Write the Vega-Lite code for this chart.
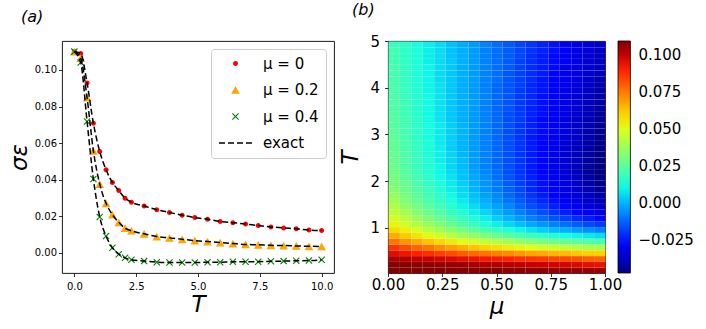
{
"$schema": "https://vega.github.io/schema/vega-lite/v6.json",
"padding": {"left": 7, "top": 1, "right": 4, "bottom": 4},
"bounds": "flush",
"spacing": 54,
"config": {
  "font": "DejaVu Sans",
  "view": {"stroke": "#000000", "strokeWidth": 0.9},
  "axis": {"domain": false, "grid": false, "tickColor": "#000000", "tickSize": 3.5, "tickWidth": 0.8, "labelColor": "#000000", "titleColor": "#000000", "labelFont": "DejaVu Sans", "titleFont": "DejaVu Sans", "titleFontWeight": "normal", "titleFontStyle": "italic", "labelPadding": 3, "labelFlush": false},
  "title": {"font": "DejaVu Sans", "fontWeight": "normal", "color": "#000000"}
},
"resolve": {"scale": {"color": "independent", "shape": "independent"}, "legend": {"color": "independent", "shape": "independent"}},
"hconcat": [
{
  "width": 272, "height": 232,
  "title": {"text": "(a)", "anchor": "start", "frame": "group", "fontSize": 16, "fontStyle": "italic", "dx": -41, "offset": 16},
  "data": {"values": [
{"T":0,"s":0.110,"g":"μ = 0"},{"T":0.256,"s":0.109,"g":"μ = 0"},{"T":0.513,"s":0.0929,"g":"μ = 0"},{"T":0.769,"s":0.0709,"g":"μ = 0"},{"T":1.026,"s":0.0554,"g":"μ = 0"},{"T":1.282,"s":0.0454,"g":"μ = 0"},{"T":1.538,"s":0.0385,"g":"μ = 0"},{"T":1.795,"s":0.0341,"g":"μ = 0"},{"T":2.051,"s":0.0299,"g":"μ = 0"},{"T":2.308,"s":0.0277,"g":"μ = 0"},{"T":2.821,"s":0.0256,"g":"μ = 0"},{"T":3.333,"s":0.0236,"g":"μ = 0"},{"T":3.846,"s":0.0221,"g":"μ = 0"},{"T":4.359,"s":0.0206,"g":"μ = 0"},{"T":4.872,"s":0.0193,"g":"μ = 0"},{"T":5.385,"s":0.0184,"g":"μ = 0"},{"T":5.897,"s":0.0172,"g":"μ = 0"},{"T":6.410,"s":0.0165,"g":"μ = 0"},{"T":6.923,"s":0.0158,"g":"μ = 0"},{"T":7.436,"s":0.0149,"g":"μ = 0"},{"T":7.949,"s":0.0142,"g":"μ = 0"},{"T":8.462,"s":0.0136,"g":"μ = 0"},{"T":8.974,"s":0.0132,"g":"μ = 0"},{"T":9.487,"s":0.0125,"g":"μ = 0"},{"T":10,"s":0.0122,"g":"μ = 0"},
{"T":0,"s":0.110,"g":"μ = 0.2"},{"T":0.256,"s":0.1064,"g":"μ = 0.2"},{"T":0.513,"s":0.0849,"g":"μ = 0.2"},{"T":0.769,"s":0.0558,"g":"μ = 0.2"},{"T":1.026,"s":0.0376,"g":"μ = 0.2"},{"T":1.282,"s":0.0271,"g":"μ = 0.2"},{"T":1.538,"s":0.0209,"g":"μ = 0.2"},{"T":1.795,"s":0.0167,"g":"μ = 0.2"},{"T":2.051,"s":0.0135,"g":"μ = 0.2"},{"T":2.308,"s":0.0121,"g":"μ = 0.2"},{"T":2.821,"s":0.0104,"g":"μ = 0.2"},{"T":3.333,"s":0.0089,"g":"μ = 0.2"},{"T":3.846,"s":0.0082,"g":"μ = 0.2"},{"T":4.359,"s":0.0074,"g":"μ = 0.2"},{"T":4.872,"s":0.0067,"g":"μ = 0.2"},{"T":5.385,"s":0.0062,"g":"μ = 0.2"},{"T":5.897,"s":0.0056,"g":"μ = 0.2"},{"T":6.410,"s":0.0051,"g":"μ = 0.2"},{"T":6.923,"s":0.0046,"g":"μ = 0.2"},{"T":7.436,"s":0.0044,"g":"μ = 0.2"},{"T":7.949,"s":0.0041,"g":"μ = 0.2"},{"T":8.462,"s":0.0040,"g":"μ = 0.2"},{"T":8.974,"s":0.0038,"g":"μ = 0.2"},{"T":9.487,"s":0.0036,"g":"μ = 0.2"},{"T":10,"s":0.0035,"g":"μ = 0.2"},
{"T":0,"s":0.110,"g":"μ = 0.4"},{"T":0.256,"s":0.1040,"g":"μ = 0.4"},{"T":0.513,"s":0.0718,"g":"μ = 0.4"},{"T":0.769,"s":0.0404,"g":"μ = 0.4"},{"T":1.026,"s":0.0196,"g":"μ = 0.4"},{"T":1.282,"s":0.0092,"g":"μ = 0.4"},{"T":1.538,"s":0.0028,"g":"μ = 0.4"},{"T":1.795,"s":-0.0007,"g":"μ = 0.4"},{"T":2.051,"s":-0.0027,"g":"μ = 0.4"},{"T":2.308,"s":-0.0038,"g":"μ = 0.4"},{"T":2.821,"s":-0.0045,"g":"μ = 0.4"},{"T":3.333,"s":-0.0051,"g":"μ = 0.4"},{"T":3.846,"s":-0.0053,"g":"μ = 0.4"},{"T":4.359,"s":-0.0053,"g":"μ = 0.4"},{"T":4.872,"s":-0.0053,"g":"μ = 0.4"},{"T":5.385,"s":-0.0051,"g":"μ = 0.4"},{"T":5.897,"s":-0.0051,"g":"μ = 0.4"},{"T":6.410,"s":-0.0049,"g":"μ = 0.4"},{"T":6.923,"s":-0.0049,"g":"μ = 0.4"},{"T":7.436,"s":-0.0048,"g":"μ = 0.4"},{"T":7.949,"s":-0.0046,"g":"μ = 0.4"},{"T":8.462,"s":-0.0045,"g":"μ = 0.4"},{"T":8.974,"s":-0.0043,"g":"μ = 0.4"},{"T":9.487,"s":-0.0042,"g":"μ = 0.4"},{"T":10,"s":-0.0038,"g":"μ = 0.4"}
  ]},
  "layer": [
    {
      "mark": {"type": "point", "filled": true, "opacity": 1, "size": 196, "strokeWidth": 0},
      "encoding": {
        "x": {"field": "T", "type": "quantitative", "scale": {"domain": [-0.5, 10.5], "nice": false, "zero": false}, "axis": {"values": [0, 2.5, 5, 7.5, 10], "format": ".1f", "labelFontSize": 10, "labelPadding": 5, "title": "T", "titleFontSize": 23, "titlePadding": 2}},
        "y": {"field": "s", "type": "quantitative", "scale": {"domain": [-0.011, 0.1158], "nice": false, "zero": false}, "axis": {"values": [0, 0.02, 0.04, 0.06, 0.08, 0.1], "format": ".2f", "labelFontSize": 10, "labelPadding": 2, "title": "σε", "titleFontSize": 23, "titlePadding": 3}},
        "color": {"field": "g", "type": "nominal", "scale": {"domain": ["μ = 0", "μ = 0.2", "μ = 0.4", "exact"], "range": ["#ff0000", "#ffa500", "#008000", "#000000"]},
          "legend": {"title": null, "orient": "top-right", "offset": 8, "padding": 7, "strokeColor": "#cccccc", "fillColor": "#ffffff", "cornerRadius": 3, "labelFontSize": 15, "labelColor": "#000000", "symbolSize": 196, "symbolStrokeWidth": 0, "symbolOpacity": 1, "symbolOffset": 10, "labelOffset": 20, "rowPadding": 10.5,
            "encoding": {"labels": {"update": {"fontStyle": {"signal": "datum.label == 'exact' ? 'italic' : 'normal'"}}}}}},
        "shape": {"field": "g", "type": "nominal", "scale": {"domain": ["μ = 0", "μ = 0.2", "μ = 0.4", "exact"], "range": [
          "M0.357,0A0.357,0.357,0,1,1,-0.357,0A0.357,0.357,0,1,1,0.357,0Z",
          "M0,-0.55L0.62,0.55L-0.62,0.55Z",
          "M-0.389,-0.5L0,-0.111L0.389,-0.5L0.5,-0.389L0.111,0L0.5,0.389L0.389,0.5L0,0.111L-0.389,0.5L-0.5,0.389L-0.111,0L-0.5,-0.389Z",
          "M-2.357,-0.107H-1.5V0.107H-2.357Z M-1.071,-0.107H-0.214V0.107H-1.071Z M0.214,-0.107H1.071V0.107H0.214Z M1.5,-0.107H2.357V0.107H1.5Z"]},
          "legend": {"title": null, "orient": "top-right", "offset": 8, "padding": 7, "strokeColor": "#cccccc", "fillColor": "#ffffff", "cornerRadius": 3, "labelFontSize": 15, "labelColor": "#000000", "symbolSize": 196, "symbolStrokeWidth": 0, "symbolOpacity": 1, "symbolOffset": 10, "labelOffset": 20, "rowPadding": 10.5,
            "encoding": {"labels": {"update": {"fontStyle": {"signal": "datum.label == 'exact' ? 'italic' : 'normal'"}}}}}}
      }
    },
    {
      "mark": {"type": "line", "color": "#000000", "strokeWidth": 1.5, "strokeDash": [6, 3], "interpolate": "monotone"},
      "encoding": {
        "x": {"field": "T", "type": "quantitative"},
        "y": {"field": "s", "type": "quantitative"},
        "detail": {"field": "g", "type": "nominal"}
      }
    }
  ]
},
{
  "width": 217, "height": 232,
  "title": {"text": "(b)", "anchor": "start", "frame": "group", "fontSize": 16, "fontStyle": "italic", "dx": -36, "offset": 16},
  "data": {"values": [
{"m":0.026,"t":0.092,"v":0.110},{"m":0.079,"t":0.092,"v":0.110},{"m":0.132,"t":0.092,"v":0.110},{"m":0.184,"t":0.092,"v":0.110},{"m":0.237,"t":0.092,"v":0.110},{"m":0.289,"t":0.092,"v":0.109},{"m":0.342,"t":0.092,"v":0.109},{"m":0.395,"t":0.092,"v":0.109},{"m":0.447,"t":0.092,"v":0.109},{"m":0.5,"t":0.092,"v":0.109},{"m":0.553,"t":0.092,"v":0.108},{"m":0.605,"t":0.092,"v":0.108},{"m":0.658,"t":0.092,"v":0.108},{"m":0.711,"t":0.092,"v":0.108},{"m":0.763,"t":0.092,"v":0.107},{"m":0.816,"t":0.092,"v":0.107},{"m":0.868,"t":0.092,"v":0.107},{"m":0.921,"t":0.092,"v":0.106},{"m":0.974,"t":0.092,"v":0.106},
{"m":0.026,"t":0.216,"v":0.109},{"m":0.079,"t":0.216,"v":0.109},{"m":0.132,"t":0.216,"v":0.108},{"m":0.184,"t":0.216,"v":0.108},{"m":0.237,"t":0.216,"v":0.107},{"m":0.289,"t":0.216,"v":0.107},{"m":0.342,"t":0.216,"v":0.106},{"m":0.395,"t":0.216,"v":0.105},{"m":0.447,"t":0.216,"v":0.104},{"m":0.5,"t":0.216,"v":0.104},{"m":0.553,"t":0.216,"v":0.103},{"m":0.605,"t":0.216,"v":0.102},{"m":0.658,"t":0.216,"v":0.101},{"m":0.711,"t":0.216,"v":0.100},{"m":0.763,"t":0.216,"v":0.099},{"m":0.816,"t":0.216,"v":0.098},{"m":0.868,"t":0.216,"v":0.097},{"m":0.921,"t":0.216,"v":0.095},{"m":0.974,"t":0.216,"v":0.094},
{"m":0.026,"t":0.341,"v":0.104},{"m":0.079,"t":0.341,"v":0.103},{"m":0.132,"t":0.341,"v":0.101},{"m":0.184,"t":0.341,"v":0.100},{"m":0.237,"t":0.341,"v":0.098},{"m":0.289,"t":0.341,"v":0.097},{"m":0.342,"t":0.341,"v":0.095},{"m":0.395,"t":0.341,"v":0.094},{"m":0.447,"t":0.341,"v":0.092},{"m":0.5,"t":0.341,"v":0.091},{"m":0.553,"t":0.341,"v":0.090},{"m":0.605,"t":0.341,"v":0.088},{"m":0.658,"t":0.341,"v":0.087},{"m":0.711,"t":0.341,"v":0.086},{"m":0.763,"t":0.341,"v":0.084},{"m":0.816,"t":0.341,"v":0.083},{"m":0.868,"t":0.341,"v":0.082},{"m":0.921,"t":0.341,"v":0.080},{"m":0.974,"t":0.341,"v":0.079},
{"m":0.026,"t":0.465,"v":0.096},{"m":0.079,"t":0.465,"v":0.093},{"m":0.132,"t":0.465,"v":0.090},{"m":0.184,"t":0.465,"v":0.088},{"m":0.237,"t":0.465,"v":0.085},{"m":0.289,"t":0.465,"v":0.083},{"m":0.342,"t":0.465,"v":0.080},{"m":0.395,"t":0.465,"v":0.078},{"m":0.447,"t":0.465,"v":0.076},{"m":0.5,"t":0.465,"v":0.074},{"m":0.553,"t":0.465,"v":0.072},{"m":0.605,"t":0.465,"v":0.070},{"m":0.658,"t":0.465,"v":0.068},{"m":0.711,"t":0.465,"v":0.067},{"m":0.763,"t":0.465,"v":0.065},{"m":0.816,"t":0.465,"v":0.064},{"m":0.868,"t":0.465,"v":0.062},{"m":0.921,"t":0.465,"v":0.061},{"m":0.974,"t":0.465,"v":0.060},
{"m":0.026,"t":0.589,"v":0.087},{"m":0.079,"t":0.589,"v":0.083},{"m":0.132,"t":0.589,"v":0.079},{"m":0.184,"t":0.589,"v":0.076},{"m":0.237,"t":0.589,"v":0.072},{"m":0.289,"t":0.589,"v":0.069},{"m":0.342,"t":0.589,"v":0.066},{"m":0.395,"t":0.589,"v":0.063},{"m":0.447,"t":0.589,"v":0.060},{"m":0.5,"t":0.589,"v":0.058},{"m":0.553,"t":0.589,"v":0.055},{"m":0.605,"t":0.589,"v":0.053},{"m":0.658,"t":0.589,"v":0.051},{"m":0.711,"t":0.589,"v":0.048},{"m":0.763,"t":0.589,"v":0.047},{"m":0.816,"t":0.589,"v":0.045},{"m":0.868,"t":0.589,"v":0.043},{"m":0.921,"t":0.589,"v":0.041},{"m":0.974,"t":0.589,"v":0.040},
{"m":0.026,"t":0.713,"v":0.076},{"m":0.079,"t":0.713,"v":0.071},{"m":0.132,"t":0.713,"v":0.067},{"m":0.184,"t":0.713,"v":0.063},{"m":0.237,"t":0.713,"v":0.059},{"m":0.289,"t":0.713,"v":0.055},{"m":0.342,"t":0.713,"v":0.051},{"m":0.395,"t":0.713,"v":0.048},{"m":0.447,"t":0.713,"v":0.045},{"m":0.5,"t":0.713,"v":0.042},{"m":0.553,"t":0.713,"v":0.039},{"m":0.605,"t":0.713,"v":0.036},{"m":0.658,"t":0.713,"v":0.033},{"m":0.711,"t":0.713,"v":0.031},{"m":0.763,"t":0.713,"v":0.029},{"m":0.816,"t":0.713,"v":0.027},{"m":0.868,"t":0.713,"v":0.025},{"m":0.921,"t":0.713,"v":0.023},{"m":0.974,"t":0.713,"v":0.022},
{"m":0.026,"t":0.838,"v":0.067},{"m":0.079,"t":0.838,"v":0.062},{"m":0.132,"t":0.838,"v":0.057},{"m":0.184,"t":0.838,"v":0.052},{"m":0.237,"t":0.838,"v":0.048},{"m":0.289,"t":0.838,"v":0.043},{"m":0.342,"t":0.838,"v":0.039},{"m":0.395,"t":0.838,"v":0.036},{"m":0.447,"t":0.838,"v":0.032},{"m":0.5,"t":0.838,"v":0.028},{"m":0.553,"t":0.838,"v":0.025},{"m":0.605,"t":0.838,"v":0.022},{"m":0.658,"t":0.838,"v":0.019},{"m":0.711,"t":0.838,"v":0.017},{"m":0.763,"t":0.838,"v":0.014},{"m":0.816,"t":0.838,"v":0.012},{"m":0.868,"t":0.838,"v":0.010},{"m":0.921,"t":0.838,"v":0.008},{"m":0.974,"t":0.838,"v":0.006},
{"m":0.026,"t":0.962,"v":0.059},{"m":0.079,"t":0.962,"v":0.054},{"m":0.132,"t":0.962,"v":0.049},{"m":0.184,"t":0.962,"v":0.043},{"m":0.237,"t":0.962,"v":0.039},{"m":0.289,"t":0.962,"v":0.034},{"m":0.342,"t":0.962,"v":0.030},{"m":0.395,"t":0.962,"v":0.025},{"m":0.447,"t":0.962,"v":0.021},{"m":0.5,"t":0.962,"v":0.018},{"m":0.553,"t":0.962,"v":0.014},{"m":0.605,"t":0.962,"v":0.010},{"m":0.658,"t":0.962,"v":0.007},{"m":0.711,"t":0.962,"v":0.004},{"m":0.763,"t":0.962,"v":0.001},{"m":0.816,"t":0.962,"v":-0.001},{"m":0.868,"t":0.962,"v":-0.004},{"m":0.921,"t":0.962,"v":-0.006},{"m":0.974,"t":0.962,"v":-0.008},
{"m":0.026,"t":1.086,"v":0.053},{"m":0.079,"t":1.086,"v":0.047},{"m":0.132,"t":1.086,"v":0.042},{"m":0.184,"t":1.086,"v":0.037},{"m":0.237,"t":1.086,"v":0.032},{"m":0.289,"t":1.086,"v":0.027},{"m":0.342,"t":1.086,"v":0.022},{"m":0.395,"t":1.086,"v":0.018},{"m":0.447,"t":1.086,"v":0.013},{"m":0.5,"t":1.086,"v":0.009},{"m":0.553,"t":1.086,"v":0.005},{"m":0.605,"t":1.086,"v":0.002},{"m":0.658,"t":1.086,"v":-0.002},{"m":0.711,"t":1.086,"v":-0.005},{"m":0.763,"t":1.086,"v":-0.008},{"m":0.816,"t":1.086,"v":-0.011},{"m":0.868,"t":1.086,"v":-0.014},{"m":0.921,"t":1.086,"v":-0.017},{"m":0.974,"t":1.086,"v":-0.019},
{"m":0.026,"t":1.210,"v":0.048},{"m":0.079,"t":1.210,"v":0.043},{"m":0.132,"t":1.210,"v":0.037},{"m":0.184,"t":1.210,"v":0.032},{"m":0.237,"t":1.210,"v":0.027},{"m":0.289,"t":1.210,"v":0.022},{"m":0.342,"t":1.210,"v":0.018},{"m":0.395,"t":1.210,"v":0.013},{"m":0.447,"t":1.210,"v":0.009},{"m":0.5,"t":1.210,"v":0.004},{"m":0.553,"t":1.210,"v":0.000},{"m":0.605,"t":1.210,"v":-0.004},{"m":0.658,"t":1.210,"v":-0.008},{"m":0.711,"t":1.210,"v":-0.011},{"m":0.763,"t":1.210,"v":-0.015},{"m":0.816,"t":1.210,"v":-0.018},{"m":0.868,"t":1.210,"v":-0.021},{"m":0.921,"t":1.210,"v":-0.024},{"m":0.974,"t":1.210,"v":-0.027},
{"m":0.026,"t":1.335,"v":0.044},{"m":0.079,"t":1.335,"v":0.039},{"m":0.132,"t":1.335,"v":0.033},{"m":0.184,"t":1.335,"v":0.028},{"m":0.237,"t":1.335,"v":0.023},{"m":0.289,"t":1.335,"v":0.018},{"m":0.342,"t":1.335,"v":0.014},{"m":0.395,"t":1.335,"v":0.009},{"m":0.447,"t":1.335,"v":0.005},{"m":0.5,"t":1.335,"v":0.000},{"m":0.553,"t":1.335,"v":-0.004},{"m":0.605,"t":1.335,"v":-0.008},{"m":0.658,"t":1.335,"v":-0.012},{"m":0.711,"t":1.335,"v":-0.016},{"m":0.763,"t":1.335,"v":-0.020},{"m":0.816,"t":1.335,"v":-0.023},{"m":0.868,"t":1.335,"v":-0.027},{"m":0.921,"t":1.335,"v":-0.030},{"m":0.974,"t":1.335,"v":-0.033},
{"m":0.026,"t":1.459,"v":0.041},{"m":0.079,"t":1.459,"v":0.035},{"m":0.132,"t":1.459,"v":0.030},{"m":0.184,"t":1.459,"v":0.025},{"m":0.237,"t":1.459,"v":0.020},{"m":0.289,"t":1.459,"v":0.015},{"m":0.342,"t":1.459,"v":0.010},{"m":0.395,"t":1.459,"v":0.006},{"m":0.447,"t":1.459,"v":0.001},{"m":0.5,"t":1.459,"v":-0.003},{"m":0.553,"t":1.459,"v":-0.007},{"m":0.605,"t":1.459,"v":-0.012},{"m":0.658,"t":1.459,"v":-0.016},{"m":0.711,"t":1.459,"v":-0.019},{"m":0.763,"t":1.459,"v":-0.023},{"m":0.816,"t":1.459,"v":-0.027},{"m":0.868,"t":1.459,"v":-0.030},{"m":0.921,"t":1.459,"v":-0.034},{"m":0.974,"t":1.459,"v":-0.037},
{"m":0.026,"t":1.583,"v":0.038},{"m":0.079,"t":1.583,"v":0.032},{"m":0.132,"t":1.583,"v":0.027},{"m":0.184,"t":1.583,"v":0.022},{"m":0.237,"t":1.583,"v":0.017},{"m":0.289,"t":1.583,"v":0.013},{"m":0.342,"t":1.583,"v":0.008},{"m":0.395,"t":1.583,"v":0.003},{"m":0.447,"t":1.583,"v":-0.001},{"m":0.5,"t":1.583,"v":-0.006},{"m":0.553,"t":1.583,"v":-0.010},{"m":0.605,"t":1.583,"v":-0.014},{"m":0.658,"t":1.583,"v":-0.018},{"m":0.711,"t":1.583,"v":-0.022},{"m":0.763,"t":1.583,"v":-0.026},{"m":0.816,"t":1.583,"v":-0.030},{"m":0.868,"t":1.583,"v":-0.033},{"m":0.921,"t":1.583,"v":-0.037},{"m":0.974,"t":1.583,"v":-0.040},
{"m":0.026,"t":1.707,"v":0.036},{"m":0.079,"t":1.707,"v":0.030},{"m":0.132,"t":1.707,"v":0.025},{"m":0.184,"t":1.707,"v":0.020},{"m":0.237,"t":1.707,"v":0.016},{"m":0.289,"t":1.707,"v":0.011},{"m":0.342,"t":1.707,"v":0.006},{"m":0.395,"t":1.707,"v":0.002},{"m":0.447,"t":1.707,"v":-0.003},{"m":0.5,"t":1.707,"v":-0.007},{"m":0.553,"t":1.707,"v":-0.012},{"m":0.605,"t":1.707,"v":-0.016},{"m":0.658,"t":1.707,"v":-0.020},{"m":0.711,"t":1.707,"v":-0.024},{"m":0.763,"t":1.707,"v":-0.028},{"m":0.816,"t":1.707,"v":-0.032},{"m":0.868,"t":1.707,"v":-0.035},{"m":0.921,"t":1.707,"v":-0.039},{"m":0.974,"t":1.707,"v":-0.043},
{"m":0.026,"t":1.832,"v":0.033},{"m":0.079,"t":1.832,"v":0.028},{"m":0.132,"t":1.832,"v":0.023},{"m":0.184,"t":1.832,"v":0.019},{"m":0.237,"t":1.832,"v":0.014},{"m":0.289,"t":1.832,"v":0.009},{"m":0.342,"t":1.832,"v":0.005},{"m":0.395,"t":1.832,"v":0.000},{"m":0.447,"t":1.832,"v":-0.005},{"m":0.5,"t":1.832,"v":-0.009},{"m":0.553,"t":1.832,"v":-0.013},{"m":0.605,"t":1.832,"v":-0.017},{"m":0.658,"t":1.832,"v":-0.022},{"m":0.711,"t":1.832,"v":-0.026},{"m":0.763,"t":1.832,"v":-0.030},{"m":0.816,"t":1.832,"v":-0.033},{"m":0.868,"t":1.832,"v":-0.037},{"m":0.921,"t":1.832,"v":-0.041},{"m":0.974,"t":1.832,"v":-0.045},
{"m":0.026,"t":1.956,"v":0.031},{"m":0.079,"t":1.956,"v":0.027},{"m":0.132,"t":1.956,"v":0.022},{"m":0.184,"t":1.956,"v":0.017},{"m":0.237,"t":1.956,"v":0.013},{"m":0.289,"t":1.956,"v":0.008},{"m":0.342,"t":1.956,"v":0.004},{"m":0.395,"t":1.956,"v":-0.001},{"m":0.447,"t":1.956,"v":-0.005},{"m":0.5,"t":1.956,"v":-0.009},{"m":0.553,"t":1.956,"v":-0.014},{"m":0.605,"t":1.956,"v":-0.018},{"m":0.658,"t":1.956,"v":-0.022},{"m":0.711,"t":1.956,"v":-0.026},{"m":0.763,"t":1.956,"v":-0.030},{"m":0.816,"t":1.956,"v":-0.034},{"m":0.868,"t":1.956,"v":-0.038},{"m":0.921,"t":1.956,"v":-0.042},{"m":0.974,"t":1.956,"v":-0.046},
{"m":0.026,"t":2.080,"v":0.030},{"m":0.079,"t":2.080,"v":0.025},{"m":0.132,"t":2.080,"v":0.020},{"m":0.184,"t":2.080,"v":0.016},{"m":0.237,"t":2.080,"v":0.011},{"m":0.289,"t":2.080,"v":0.007},{"m":0.342,"t":2.080,"v":0.002},{"m":0.395,"t":2.080,"v":-0.002},{"m":0.447,"t":2.080,"v":-0.006},{"m":0.5,"t":2.080,"v":-0.011},{"m":0.553,"t":2.080,"v":-0.015},{"m":0.605,"t":2.080,"v":-0.019},{"m":0.658,"t":2.080,"v":-0.023},{"m":0.711,"t":2.080,"v":-0.027},{"m":0.763,"t":2.080,"v":-0.031},{"m":0.816,"t":2.080,"v":-0.035},{"m":0.868,"t":2.080,"v":-0.039},{"m":0.921,"t":2.080,"v":-0.043},{"m":0.974,"t":2.080,"v":-0.047},
{"m":0.026,"t":2.204,"v":0.029},{"m":0.079,"t":2.204,"v":0.024},{"m":0.132,"t":2.204,"v":0.019},{"m":0.184,"t":2.204,"v":0.015},{"m":0.237,"t":2.204,"v":0.010},{"m":0.289,"t":2.204,"v":0.006},{"m":0.342,"t":2.204,"v":0.002},{"m":0.395,"t":2.204,"v":-0.003},{"m":0.447,"t":2.204,"v":-0.007},{"m":0.5,"t":2.204,"v":-0.011},{"m":0.553,"t":2.204,"v":-0.016},{"m":0.605,"t":2.204,"v":-0.020},{"m":0.658,"t":2.204,"v":-0.024},{"m":0.711,"t":2.204,"v":-0.028},{"m":0.763,"t":2.204,"v":-0.032},{"m":0.816,"t":2.204,"v":-0.036},{"m":0.868,"t":2.204,"v":-0.040},{"m":0.921,"t":2.204,"v":-0.044},{"m":0.974,"t":2.204,"v":-0.048},
{"m":0.026,"t":2.329,"v":0.028},{"m":0.079,"t":2.329,"v":0.023},{"m":0.132,"t":2.329,"v":0.018},{"m":0.184,"t":2.329,"v":0.014},{"m":0.237,"t":2.329,"v":0.010},{"m":0.289,"t":2.329,"v":0.005},{"m":0.342,"t":2.329,"v":0.001},{"m":0.395,"t":2.329,"v":-0.004},{"m":0.447,"t":2.329,"v":-0.008},{"m":0.5,"t":2.329,"v":-0.012},{"m":0.553,"t":2.329,"v":-0.016},{"m":0.605,"t":2.329,"v":-0.020},{"m":0.658,"t":2.329,"v":-0.024},{"m":0.711,"t":2.329,"v":-0.028},{"m":0.763,"t":2.329,"v":-0.032},{"m":0.816,"t":2.329,"v":-0.036},{"m":0.868,"t":2.329,"v":-0.040},{"m":0.921,"t":2.329,"v":-0.044},{"m":0.974,"t":2.329,"v":-0.048},
{"m":0.026,"t":2.453,"v":0.027},{"m":0.079,"t":2.453,"v":0.023},{"m":0.132,"t":2.453,"v":0.018},{"m":0.184,"t":2.453,"v":0.014},{"m":0.237,"t":2.453,"v":0.009},{"m":0.289,"t":2.453,"v":0.005},{"m":0.342,"t":2.453,"v":0.001},{"m":0.395,"t":2.453,"v":-0.004},{"m":0.447,"t":2.453,"v":-0.008},{"m":0.5,"t":2.453,"v":-0.012},{"m":0.553,"t":2.453,"v":-0.016},{"m":0.605,"t":2.453,"v":-0.020},{"m":0.658,"t":2.453,"v":-0.024},{"m":0.711,"t":2.453,"v":-0.028},{"m":0.763,"t":2.453,"v":-0.032},{"m":0.816,"t":2.453,"v":-0.036},{"m":0.868,"t":2.453,"v":-0.040},{"m":0.921,"t":2.453,"v":-0.044},{"m":0.974,"t":2.453,"v":-0.047},
{"m":0.026,"t":2.577,"v":0.027},{"m":0.079,"t":2.577,"v":0.022},{"m":0.132,"t":2.577,"v":0.018},{"m":0.184,"t":2.577,"v":0.013},{"m":0.237,"t":2.577,"v":0.009},{"m":0.289,"t":2.577,"v":0.005},{"m":0.342,"t":2.577,"v":0.000},{"m":0.395,"t":2.577,"v":-0.004},{"m":0.447,"t":2.577,"v":-0.008},{"m":0.5,"t":2.577,"v":-0.012},{"m":0.553,"t":2.577,"v":-0.016},{"m":0.605,"t":2.577,"v":-0.020},{"m":0.658,"t":2.577,"v":-0.024},{"m":0.711,"t":2.577,"v":-0.028},{"m":0.763,"t":2.577,"v":-0.032},{"m":0.816,"t":2.577,"v":-0.036},{"m":0.868,"t":2.577,"v":-0.040},{"m":0.921,"t":2.577,"v":-0.043},{"m":0.974,"t":2.577,"v":-0.047},
{"m":0.026,"t":2.701,"v":0.026},{"m":0.079,"t":2.701,"v":0.022},{"m":0.132,"t":2.701,"v":0.017},{"m":0.184,"t":2.701,"v":0.013},{"m":0.237,"t":2.701,"v":0.009},{"m":0.289,"t":2.701,"v":0.004},{"m":0.342,"t":2.701,"v":0.000},{"m":0.395,"t":2.701,"v":-0.004},{"m":0.447,"t":2.701,"v":-0.008},{"m":0.5,"t":2.701,"v":-0.012},{"m":0.553,"t":2.701,"v":-0.016},{"m":0.605,"t":2.701,"v":-0.020},{"m":0.658,"t":2.701,"v":-0.024},{"m":0.711,"t":2.701,"v":-0.028},{"m":0.763,"t":2.701,"v":-0.032},{"m":0.816,"t":2.701,"v":-0.036},{"m":0.868,"t":2.701,"v":-0.039},{"m":0.921,"t":2.701,"v":-0.043},{"m":0.974,"t":2.701,"v":-0.047},
{"m":0.026,"t":2.826,"v":0.026},{"m":0.079,"t":2.826,"v":0.021},{"m":0.132,"t":2.826,"v":0.017},{"m":0.184,"t":2.826,"v":0.013},{"m":0.237,"t":2.826,"v":0.008},{"m":0.289,"t":2.826,"v":0.004},{"m":0.342,"t":2.826,"v":0.000},{"m":0.395,"t":2.826,"v":-0.004},{"m":0.447,"t":2.826,"v":-0.008},{"m":0.5,"t":2.826,"v":-0.012},{"m":0.553,"t":2.826,"v":-0.016},{"m":0.605,"t":2.826,"v":-0.020},{"m":0.658,"t":2.826,"v":-0.024},{"m":0.711,"t":2.826,"v":-0.028},{"m":0.763,"t":2.826,"v":-0.031},{"m":0.816,"t":2.826,"v":-0.035},{"m":0.868,"t":2.826,"v":-0.039},{"m":0.921,"t":2.826,"v":-0.042},{"m":0.974,"t":2.826,"v":-0.046},
{"m":0.026,"t":2.950,"v":0.025},{"m":0.079,"t":2.950,"v":0.021},{"m":0.132,"t":2.950,"v":0.016},{"m":0.184,"t":2.950,"v":0.012},{"m":0.237,"t":2.950,"v":0.008},{"m":0.289,"t":2.950,"v":0.004},{"m":0.342,"t":2.950,"v":0.000},{"m":0.395,"t":2.950,"v":-0.004},{"m":0.447,"t":2.950,"v":-0.008},{"m":0.5,"t":2.950,"v":-0.012},{"m":0.553,"t":2.950,"v":-0.016},{"m":0.605,"t":2.950,"v":-0.020},{"m":0.658,"t":2.950,"v":-0.024},{"m":0.711,"t":2.950,"v":-0.027},{"m":0.763,"t":2.950,"v":-0.031},{"m":0.816,"t":2.950,"v":-0.035},{"m":0.868,"t":2.950,"v":-0.038},{"m":0.921,"t":2.950,"v":-0.042},{"m":0.974,"t":2.950,"v":-0.046},
{"m":0.026,"t":3.074,"v":0.025},{"m":0.079,"t":3.074,"v":0.020},{"m":0.132,"t":3.074,"v":0.016},{"m":0.184,"t":3.074,"v":0.012},{"m":0.237,"t":3.074,"v":0.008},{"m":0.289,"t":3.074,"v":0.004},{"m":0.342,"t":3.074,"v":0.000},{"m":0.395,"t":3.074,"v":-0.004},{"m":0.447,"t":3.074,"v":-0.008},{"m":0.5,"t":3.074,"v":-0.012},{"m":0.553,"t":3.074,"v":-0.016},{"m":0.605,"t":3.074,"v":-0.020},{"m":0.658,"t":3.074,"v":-0.023},{"m":0.711,"t":3.074,"v":-0.027},{"m":0.763,"t":3.074,"v":-0.031},{"m":0.816,"t":3.074,"v":-0.034},{"m":0.868,"t":3.074,"v":-0.038},{"m":0.921,"t":3.074,"v":-0.042},{"m":0.974,"t":3.074,"v":-0.045},
{"m":0.026,"t":3.198,"v":0.024},{"m":0.079,"t":3.198,"v":0.020},{"m":0.132,"t":3.198,"v":0.016},{"m":0.184,"t":3.198,"v":0.012},{"m":0.237,"t":3.198,"v":0.008},{"m":0.289,"t":3.198,"v":0.004},{"m":0.342,"t":3.198,"v":0.000},{"m":0.395,"t":3.198,"v":-0.004},{"m":0.447,"t":3.198,"v":-0.008},{"m":0.5,"t":3.198,"v":-0.012},{"m":0.553,"t":3.198,"v":-0.016},{"m":0.605,"t":3.198,"v":-0.020},{"m":0.658,"t":3.198,"v":-0.023},{"m":0.711,"t":3.198,"v":-0.027},{"m":0.763,"t":3.198,"v":-0.031},{"m":0.816,"t":3.198,"v":-0.034},{"m":0.868,"t":3.198,"v":-0.038},{"m":0.921,"t":3.198,"v":-0.041},{"m":0.974,"t":3.198,"v":-0.045},
{"m":0.026,"t":3.323,"v":0.024},{"m":0.079,"t":3.323,"v":0.020},{"m":0.132,"t":3.323,"v":0.016},{"m":0.184,"t":3.323,"v":0.011},{"m":0.237,"t":3.323,"v":0.007},{"m":0.289,"t":3.323,"v":0.003},{"m":0.342,"t":3.323,"v":-0.001},{"m":0.395,"t":3.323,"v":-0.004},{"m":0.447,"t":3.323,"v":-0.008},{"m":0.5,"t":3.323,"v":-0.012},{"m":0.553,"t":3.323,"v":-0.016},{"m":0.605,"t":3.323,"v":-0.019},{"m":0.658,"t":3.323,"v":-0.023},{"m":0.711,"t":3.323,"v":-0.027},{"m":0.763,"t":3.323,"v":-0.030},{"m":0.816,"t":3.323,"v":-0.034},{"m":0.868,"t":3.323,"v":-0.037},{"m":0.921,"t":3.323,"v":-0.041},{"m":0.974,"t":3.323,"v":-0.044},
{"m":0.026,"t":3.447,"v":0.023},{"m":0.079,"t":3.447,"v":0.019},{"m":0.132,"t":3.447,"v":0.015},{"m":0.184,"t":3.447,"v":0.011},{"m":0.237,"t":3.447,"v":0.007},{"m":0.289,"t":3.447,"v":0.003},{"m":0.342,"t":3.447,"v":-0.001},{"m":0.395,"t":3.447,"v":-0.004},{"m":0.447,"t":3.447,"v":-0.008},{"m":0.5,"t":3.447,"v":-0.012},{"m":0.553,"t":3.447,"v":-0.016},{"m":0.605,"t":3.447,"v":-0.019},{"m":0.658,"t":3.447,"v":-0.023},{"m":0.711,"t":3.447,"v":-0.026},{"m":0.763,"t":3.447,"v":-0.030},{"m":0.816,"t":3.447,"v":-0.033},{"m":0.868,"t":3.447,"v":-0.037},{"m":0.921,"t":3.447,"v":-0.040},{"m":0.974,"t":3.447,"v":-0.044},
{"m":0.026,"t":3.571,"v":0.023},{"m":0.079,"t":3.571,"v":0.019},{"m":0.132,"t":3.571,"v":0.015},{"m":0.184,"t":3.571,"v":0.011},{"m":0.237,"t":3.571,"v":0.007},{"m":0.289,"t":3.571,"v":0.003},{"m":0.342,"t":3.571,"v":-0.001},{"m":0.395,"t":3.571,"v":-0.004},{"m":0.447,"t":3.571,"v":-0.008},{"m":0.5,"t":3.571,"v":-0.012},{"m":0.553,"t":3.571,"v":-0.015},{"m":0.605,"t":3.571,"v":-0.019},{"m":0.658,"t":3.571,"v":-0.023},{"m":0.711,"t":3.571,"v":-0.026},{"m":0.763,"t":3.571,"v":-0.030},{"m":0.816,"t":3.571,"v":-0.033},{"m":0.868,"t":3.571,"v":-0.036},{"m":0.921,"t":3.571,"v":-0.040},{"m":0.974,"t":3.571,"v":-0.043},
{"m":0.026,"t":3.695,"v":0.023},{"m":0.079,"t":3.695,"v":0.019},{"m":0.132,"t":3.695,"v":0.015},{"m":0.184,"t":3.695,"v":0.011},{"m":0.237,"t":3.695,"v":0.007},{"m":0.289,"t":3.695,"v":0.003},{"m":0.342,"t":3.695,"v":-0.001},{"m":0.395,"t":3.695,"v":-0.004},{"m":0.447,"t":3.695,"v":-0.008},{"m":0.5,"t":3.695,"v":-0.012},{"m":0.553,"t":3.695,"v":-0.015},{"m":0.605,"t":3.695,"v":-0.019},{"m":0.658,"t":3.695,"v":-0.022},{"m":0.711,"t":3.695,"v":-0.026},{"m":0.763,"t":3.695,"v":-0.029},{"m":0.816,"t":3.695,"v":-0.033},{"m":0.868,"t":3.695,"v":-0.036},{"m":0.921,"t":3.695,"v":-0.039},{"m":0.974,"t":3.695,"v":-0.043},
{"m":0.026,"t":3.820,"v":0.022},{"m":0.079,"t":3.820,"v":0.018},{"m":0.132,"t":3.820,"v":0.014},{"m":0.184,"t":3.820,"v":0.011},{"m":0.237,"t":3.820,"v":0.007},{"m":0.289,"t":3.820,"v":0.003},{"m":0.342,"t":3.820,"v":-0.001},{"m":0.395,"t":3.820,"v":-0.004},{"m":0.447,"t":3.820,"v":-0.008},{"m":0.5,"t":3.820,"v":-0.012},{"m":0.553,"t":3.820,"v":-0.015},{"m":0.605,"t":3.820,"v":-0.019},{"m":0.658,"t":3.820,"v":-0.022},{"m":0.711,"t":3.820,"v":-0.026},{"m":0.763,"t":3.820,"v":-0.029},{"m":0.816,"t":3.820,"v":-0.032},{"m":0.868,"t":3.820,"v":-0.036},{"m":0.921,"t":3.820,"v":-0.039},{"m":0.974,"t":3.820,"v":-0.042},
{"m":0.026,"t":3.944,"v":0.022},{"m":0.079,"t":3.944,"v":0.018},{"m":0.132,"t":3.944,"v":0.014},{"m":0.184,"t":3.944,"v":0.010},{"m":0.237,"t":3.944,"v":0.007},{"m":0.289,"t":3.944,"v":0.003},{"m":0.342,"t":3.944,"v":-0.001},{"m":0.395,"t":3.944,"v":-0.004},{"m":0.447,"t":3.944,"v":-0.008},{"m":0.5,"t":3.944,"v":-0.012},{"m":0.553,"t":3.944,"v":-0.015},{"m":0.605,"t":3.944,"v":-0.019},{"m":0.658,"t":3.944,"v":-0.022},{"m":0.711,"t":3.944,"v":-0.025},{"m":0.763,"t":3.944,"v":-0.029},{"m":0.816,"t":3.944,"v":-0.032},{"m":0.868,"t":3.944,"v":-0.035},{"m":0.921,"t":3.944,"v":-0.039},{"m":0.974,"t":3.944,"v":-0.042},
{"m":0.026,"t":4.068,"v":0.022},{"m":0.079,"t":4.068,"v":0.018},{"m":0.132,"t":4.068,"v":0.014},{"m":0.184,"t":4.068,"v":0.010},{"m":0.237,"t":4.068,"v":0.007},{"m":0.289,"t":4.068,"v":0.003},{"m":0.342,"t":4.068,"v":-0.001},{"m":0.395,"t":4.068,"v":-0.004},{"m":0.447,"t":4.068,"v":-0.008},{"m":0.5,"t":4.068,"v":-0.012},{"m":0.553,"t":4.068,"v":-0.015},{"m":0.605,"t":4.068,"v":-0.018},{"m":0.658,"t":4.068,"v":-0.022},{"m":0.711,"t":4.068,"v":-0.025},{"m":0.763,"t":4.068,"v":-0.028},{"m":0.816,"t":4.068,"v":-0.032},{"m":0.868,"t":4.068,"v":-0.035},{"m":0.921,"t":4.068,"v":-0.038},{"m":0.974,"t":4.068,"v":-0.041},
{"m":0.026,"t":4.192,"v":0.021},{"m":0.079,"t":4.192,"v":0.017},{"m":0.132,"t":4.192,"v":0.014},{"m":0.184,"t":4.192,"v":0.010},{"m":0.237,"t":4.192,"v":0.006},{"m":0.289,"t":4.192,"v":0.003},{"m":0.342,"t":4.192,"v":-0.001},{"m":0.395,"t":4.192,"v":-0.004},{"m":0.447,"t":4.192,"v":-0.008},{"m":0.5,"t":4.192,"v":-0.011},{"m":0.553,"t":4.192,"v":-0.015},{"m":0.605,"t":4.192,"v":-0.018},{"m":0.658,"t":4.192,"v":-0.021},{"m":0.711,"t":4.192,"v":-0.025},{"m":0.763,"t":4.192,"v":-0.028},{"m":0.816,"t":4.192,"v":-0.031},{"m":0.868,"t":4.192,"v":-0.034},{"m":0.921,"t":4.192,"v":-0.038},{"m":0.974,"t":4.192,"v":-0.041},
{"m":0.026,"t":4.317,"v":0.021},{"m":0.079,"t":4.317,"v":0.017},{"m":0.132,"t":4.317,"v":0.013},{"m":0.184,"t":4.317,"v":0.010},{"m":0.237,"t":4.317,"v":0.006},{"m":0.289,"t":4.317,"v":0.003},{"m":0.342,"t":4.317,"v":-0.001},{"m":0.395,"t":4.317,"v":-0.004},{"m":0.447,"t":4.317,"v":-0.008},{"m":0.5,"t":4.317,"v":-0.011},{"m":0.553,"t":4.317,"v":-0.015},{"m":0.605,"t":4.317,"v":-0.018},{"m":0.658,"t":4.317,"v":-0.021},{"m":0.711,"t":4.317,"v":-0.024},{"m":0.763,"t":4.317,"v":-0.028},{"m":0.816,"t":4.317,"v":-0.031},{"m":0.868,"t":4.317,"v":-0.034},{"m":0.921,"t":4.317,"v":-0.037},{"m":0.974,"t":4.317,"v":-0.040},
{"m":0.026,"t":4.441,"v":0.021},{"m":0.079,"t":4.441,"v":0.017},{"m":0.132,"t":4.441,"v":0.013},{"m":0.184,"t":4.441,"v":0.010},{"m":0.237,"t":4.441,"v":0.006},{"m":0.289,"t":4.441,"v":0.003},{"m":0.342,"t":4.441,"v":-0.001},{"m":0.395,"t":4.441,"v":-0.004},{"m":0.447,"t":4.441,"v":-0.008},{"m":0.5,"t":4.441,"v":-0.011},{"m":0.553,"t":4.441,"v":-0.014},{"m":0.605,"t":4.441,"v":-0.018},{"m":0.658,"t":4.441,"v":-0.021},{"m":0.711,"t":4.441,"v":-0.024},{"m":0.763,"t":4.441,"v":-0.027},{"m":0.816,"t":4.441,"v":-0.031},{"m":0.868,"t":4.441,"v":-0.034},{"m":0.921,"t":4.441,"v":-0.037},{"m":0.974,"t":4.441,"v":-0.040},
{"m":0.026,"t":4.565,"v":0.020},{"m":0.079,"t":4.565,"v":0.017},{"m":0.132,"t":4.565,"v":0.013},{"m":0.184,"t":4.565,"v":0.009},{"m":0.237,"t":4.565,"v":0.006},{"m":0.289,"t":4.565,"v":0.003},{"m":0.342,"t":4.565,"v":-0.001},{"m":0.395,"t":4.565,"v":-0.004},{"m":0.447,"t":4.565,"v":-0.008},{"m":0.5,"t":4.565,"v":-0.011},{"m":0.553,"t":4.565,"v":-0.014},{"m":0.605,"t":4.565,"v":-0.018},{"m":0.658,"t":4.565,"v":-0.021},{"m":0.711,"t":4.565,"v":-0.024},{"m":0.763,"t":4.565,"v":-0.027},{"m":0.816,"t":4.565,"v":-0.030},{"m":0.868,"t":4.565,"v":-0.033},{"m":0.921,"t":4.565,"v":-0.036},{"m":0.974,"t":4.565,"v":-0.039},
{"m":0.026,"t":4.689,"v":0.020},{"m":0.079,"t":4.689,"v":0.016},{"m":0.132,"t":4.689,"v":0.013},{"m":0.184,"t":4.689,"v":0.009},{"m":0.237,"t":4.689,"v":0.006},{"m":0.289,"t":4.689,"v":0.002},{"m":0.342,"t":4.689,"v":-0.001},{"m":0.395,"t":4.689,"v":-0.004},{"m":0.447,"t":4.689,"v":-0.008},{"m":0.5,"t":4.689,"v":-0.011},{"m":0.553,"t":4.689,"v":-0.014},{"m":0.605,"t":4.689,"v":-0.017},{"m":0.658,"t":4.689,"v":-0.021},{"m":0.711,"t":4.689,"v":-0.024},{"m":0.763,"t":4.689,"v":-0.027},{"m":0.816,"t":4.689,"v":-0.030},{"m":0.868,"t":4.689,"v":-0.033},{"m":0.921,"t":4.689,"v":-0.036},{"m":0.974,"t":4.689,"v":-0.039},
{"m":0.026,"t":4.814,"v":0.020},{"m":0.079,"t":4.814,"v":0.016},{"m":0.132,"t":4.814,"v":0.013},{"m":0.184,"t":4.814,"v":0.009},{"m":0.237,"t":4.814,"v":0.006},{"m":0.289,"t":4.814,"v":0.002},{"m":0.342,"t":4.814,"v":-0.001},{"m":0.395,"t":4.814,"v":-0.004},{"m":0.447,"t":4.814,"v":-0.008},{"m":0.5,"t":4.814,"v":-0.011},{"m":0.553,"t":4.814,"v":-0.014},{"m":0.605,"t":4.814,"v":-0.017},{"m":0.658,"t":4.814,"v":-0.020},{"m":0.711,"t":4.814,"v":-0.023},{"m":0.763,"t":4.814,"v":-0.026},{"m":0.816,"t":4.814,"v":-0.029},{"m":0.868,"t":4.814,"v":-0.032},{"m":0.921,"t":4.814,"v":-0.035},{"m":0.974,"t":4.814,"v":-0.038},
{"m":0.026,"t":4.938,"v":0.019},{"m":0.079,"t":4.938,"v":0.016},{"m":0.132,"t":4.938,"v":0.012},{"m":0.184,"t":4.938,"v":0.009},{"m":0.237,"t":4.938,"v":0.006},{"m":0.289,"t":4.938,"v":0.002},{"m":0.342,"t":4.938,"v":-0.001},{"m":0.395,"t":4.938,"v":-0.004},{"m":0.447,"t":4.938,"v":-0.008},{"m":0.5,"t":4.938,"v":-0.011},{"m":0.553,"t":4.938,"v":-0.014},{"m":0.605,"t":4.938,"v":-0.017},{"m":0.658,"t":4.938,"v":-0.020},{"m":0.711,"t":4.938,"v":-0.023},{"m":0.763,"t":4.938,"v":-0.026},{"m":0.816,"t":4.938,"v":-0.029},{"m":0.868,"t":4.938,"v":-0.032},{"m":0.921,"t":4.938,"v":-0.035},{"m":0.974,"t":4.938,"v":-0.038}
  ]},
  "mark": {"type": "rect", "binSpacing": 0, "stroke": "#ffffff", "strokeOpacity": 0.05, "strokeWidth": 0.5},
  "encoding": {
    "x": {"field": "m", "type": "quantitative", "bin": {"extent": [0, 1], "step": 0.05263157894736842, "nice": false}, "scale": {"domain": [0, 1], "nice": false, "zero": false}, "axis": {"values": [0, 0.25, 0.5, 0.75, 1], "format": ".2f", "labelFontSize": 15, "labelPadding": 0.5, "title": "μ", "titleFontSize": 23, "titlePadding": 3}},
    "y": {"field": "t", "type": "quantitative", "bin": {"extent": [0.03, 5], "step": 0.12425, "nice": false}, "scale": {"domain": [0.03, 5], "nice": false, "zero": false}, "axis": {"values": [1, 2, 3, 4, 5], "format": "d", "labelFontSize": 15, "labelPadding": 5, "title": "T", "titleFontSize": 23, "titlePadding": 7}},
    "color": {"field": "v", "type": "quantitative",
      "scale": {"domain": [-0.0476, -0.03777, -0.02794, -0.01811, -0.00828, 0.00156, 0.01139, 0.02122, 0.03105, 0.04088, 0.05071, 0.06054, 0.07038, 0.08021, 0.09004, 0.09987, 0.1097],
        "range": ["#000080", "#0000c8", "#0000ff", "#0040ff", "#0080ff", "#00bfff", "#14ffe2", "#48ffaf", "#7bff7b", "#afff48", "#e2ff15", "#ffd200", "#ff9700", "#ff5c00", "#ff2100", "#c80000", "#800000"],
        "interpolate": "rgb", "clamp": true},
      "legend": {"type": "gradient", "direction": "vertical", "orient": "right", "offset": 13, "title": null, "gradientLength": 232, "gradientThickness": 12.4, "gradientStrokeColor": "#000000", "gradientStrokeWidth": 0.8, "values": [-0.025, 0, 0.025, 0.05, 0.075, 0.1], "format": ".3f", "labelFontSize": 15, "labelColor": "#000000", "labelOffset": 8, "labelOverlap": false, "padding": 0}}
  }
}
]
}
